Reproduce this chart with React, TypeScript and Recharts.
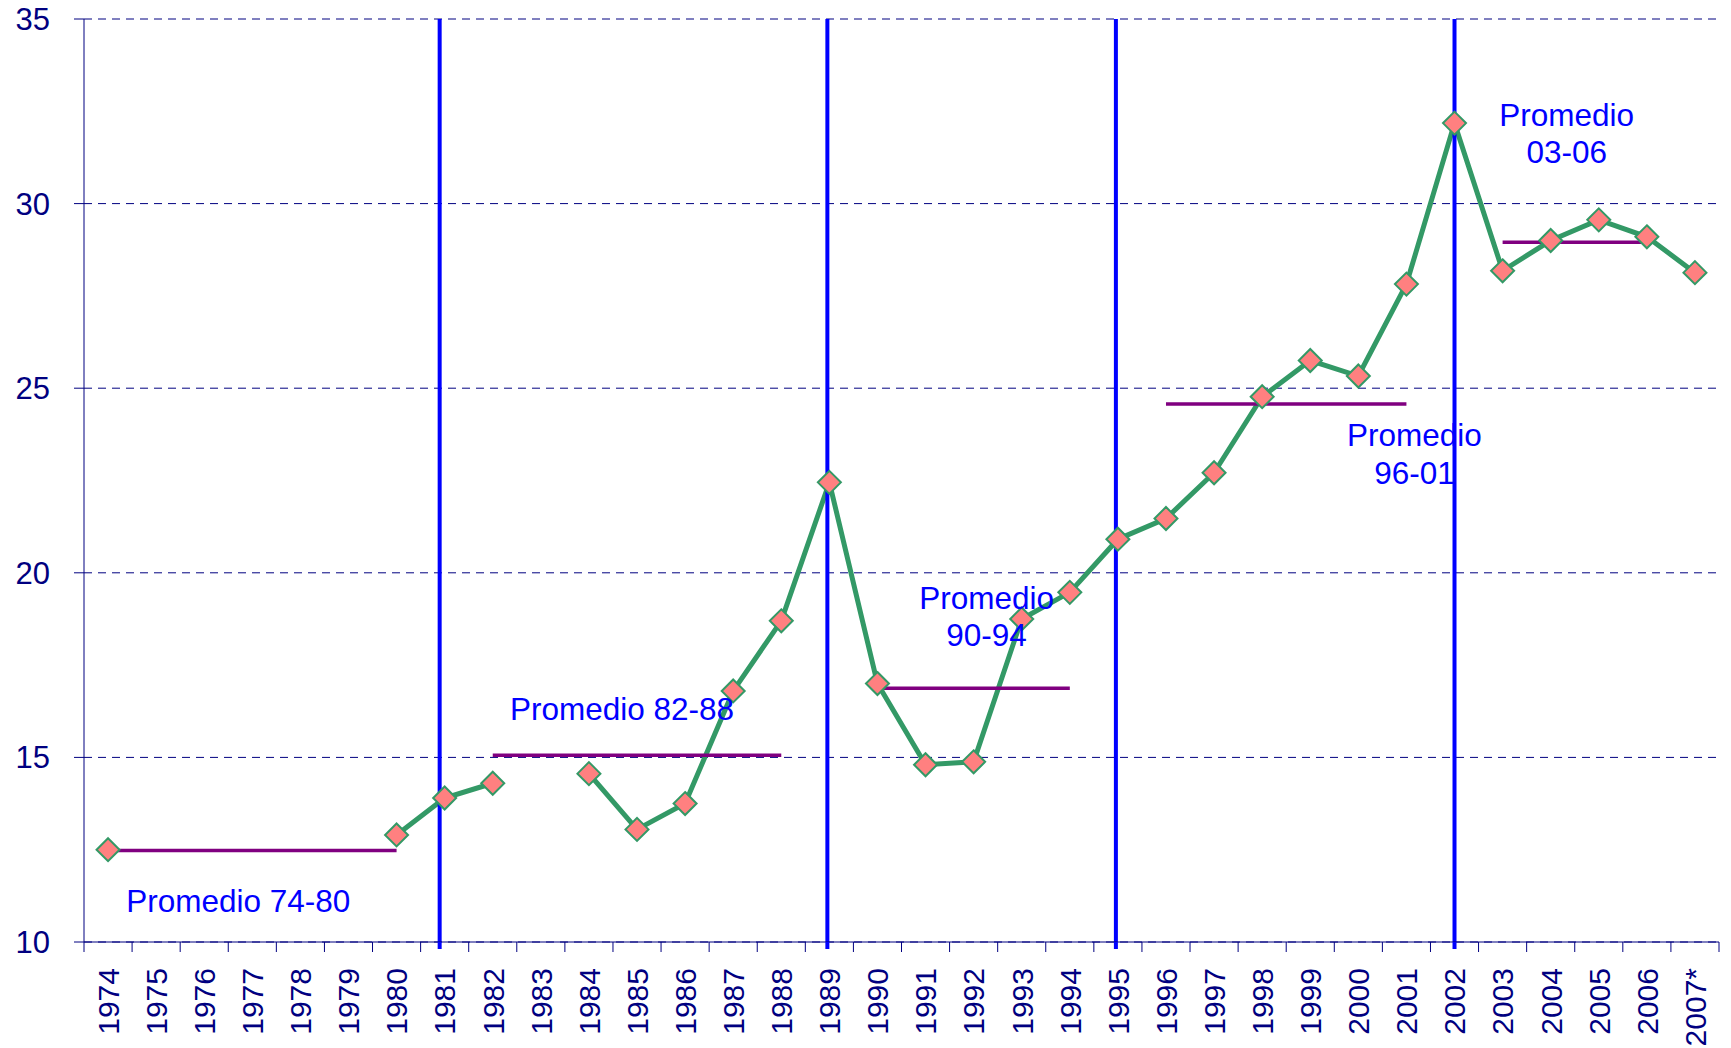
import React from 'react';
import { LineChart, Line, XAxis, YAxis, CartesianGrid, ReferenceLine, ReferenceDot } from 'recharts';

const years = ['1974', '1975', '1976', '1977', '1978', '1979', '1980', '1981', '1982', '1983', '1984', '1985', '1986', '1987', '1988', '1989', '1990', '1991', '1992', '1993', '1994', '1995', '1996', '1997', '1998', '1999', '2000', '2001', '2002', '2003', '2004', '2005', '2006', '2007*'];

const values: (number | null)[] = [12.5, null, null, null, null, null, 12.9, 13.9, 14.3, null, 14.56, 13.05, 13.75, 16.8, 18.7, 22.45, 17.0, 14.8, 14.88, 18.75, 19.47, 20.91, 21.47, 22.71, 24.77, 25.75, 25.33, 27.82, 32.18, 28.18, 29.0, 29.56, 29.1, 28.13];

const avgFrom = ['1974', '1982', '1990', '1996', '2003'];
const avgTo = ['1980', '1988', '1994', '2001', '2006'];
const avgValues = [12.48, 15.06, 16.87, 24.57, 28.95];

const eventYears = ['1981', '1989', '1995', '2002'];
const eventShift = [-5, -2, -2, 0];

const yTicks = [10, 15, 20, 25, 30, 35];

const annotations = [
  { x: '1977', y: 10.81, dx: -14, lines: ['Promedio 74-80'] },
  { x: '1985', y: 16.0, dx: -15, lines: ['Promedio 82-88'] },
  { x: '1992', y: 19.03, dx: 13, lines: ['Promedio', '90-94'] },
  { x: '2001', y: 23.43, dx: 8, lines: ['Promedio', '96-01'] },
  { x: '2004', y: 32.11, dx: 16, lines: ['Promedio', '03-06'] },
];

const data = years.map((year, i) => {
  let avg: number | null = null;
  avgFrom.forEach((f, k) => {
    const a = years.indexOf(f);
    const b = years.indexOf(avgTo[k]);
    if (i >= a && i <= b) avg = avgValues[k];
  });
  return { year, value: values[i], avg };
});

const FONT = 'Liberation Sans, Arial, Helvetica, sans-serif';
const W = 1731;
const H = 1048;
const MARGIN = { top: 19, right: 12, bottom: 0, left: 0 };
const Y_W = 84;
const X_H = 106;
const BW = (W - MARGIN.right - Y_W) / years.length;
const X_TICK = 10;
const X_MARGIN = 16;

const XTick = (props: any) => {
  const { x, y, payload } = props;
  const axisY = y - X_TICK - X_MARGIN;
  const isLast = payload.value === years[years.length - 1];
  const ei = eventYears.indexOf(payload.value);
  return (
    <g>
      <line x1={x - BW / 2} x2={x - BW / 2} y1={axisY} y2={axisY + X_TICK} stroke="#000080" strokeWidth={1} />
      {isLast && <line x1={x + BW / 2} x2={x + BW / 2} y1={axisY} y2={axisY + X_TICK} stroke="#000080" strokeWidth={1} />}
      {ei >= 0 && (
        <line x1={x + eventShift[ei]} x2={x + eventShift[ei]} y1={axisY} y2={axisY + 7} stroke="#0000FF" strokeWidth={4} />
      )}
      <text
        transform={`translate(${x},${y}) rotate(-90)`}
        textAnchor="end"
        dy="0.36em"
        fontSize={30}
        fill="#000080"
        fontFamily={FONT}
      >
        {payload.value}
      </text>
    </g>
  );
};

const Diamond = (props: any) => {
  const { cx, cy, index } = props;
  if (cx == null || cy == null || props.value == null) return <g key={`d-${index}`} />;
  const s = 11.5;
  return (
    <polygon
      key={`d-${index}`}
      points={`${cx},${cy - s} ${cx + s},${cy} ${cx},${cy + s} ${cx - s},${cy}`}
      fill="#FF8080"
      stroke="#339966"
      strokeWidth={2}
    />
  );
};

const makeLabel = (lines: string[], dx: number) => (props: any) => {
  const { cx, cy } = props;
  if (cx == null || cy == null) return <g />;
  return (
    <text x={cx + dx} y={cy} textAnchor="middle" fontSize={31.5} fill="#0000FF" fontFamily={FONT}>
      {lines.map((l, i) => (
        <tspan key={i} x={cx + dx} dy={i === 0 ? 0 : 37.8}>
          {l}
        </tspan>
      ))}
    </text>
  );
};

const makeEventShape = (shift: number) => (props: any) => {
  const { x1, x2, y1, y2 } = props;
  if (x1 == null) return <g />;
  return <line x1={x1 + shift} x2={x2 + shift} y1={y1} y2={y2} stroke="#0000FF" strokeWidth={4} />;
};

export default function App() {
  return (
    <div style={{ position: 'absolute', left: 0, top: 0, width: W, height: H, background: '#fff' }}>
      <LineChart width={W} height={H} data={data} margin={MARGIN}>
        <CartesianGrid vertical={false} stroke="#000080" strokeDasharray="8 6" strokeWidth={1} />
        <XAxis
          dataKey="year"
          type="category"
          scale="band"
          interval={0}
          height={X_H}
          tickSize={X_TICK}
          tickMargin={X_MARGIN}
          tickLine={false}
          axisLine={{ stroke: '#000080', strokeWidth: 1 }}
          tick={<XTick />}
        />
        <YAxis
          type="number"
          domain={[10, 35]}
          ticks={yTicks}
          width={Y_W}
          tickSize={10}
          tickMargin={24}
          allowDataOverflow
          axisLine={{ stroke: '#000080', strokeWidth: 1 }}
          tickLine={{ stroke: '#000080', strokeWidth: 1 }}
          tick={{ fontSize: 31, fill: '#000080', fontFamily: FONT }}
        />
        <Line
          type="linear"
          dataKey="value"
          stroke="#339966"
          strokeWidth={5}
          connectNulls={false}
          dot={<Diamond />}
          activeDot={false}
          isAnimationActive={false}
        />
        <Line
          type="linear"
          dataKey="avg"
          stroke="#800080"
          strokeWidth={3.5}
          connectNulls={false}
          dot={false}
          activeDot={false}
          isAnimationActive={false}
        />
        {eventYears.map((yr, i) => (
          <ReferenceLine key={yr} x={yr} stroke="#0000FF" strokeWidth={4} shape={makeEventShape(eventShift[i])} />
        ))}
        {annotations.map((a, i) => (
          <ReferenceDot key={i} x={a.x} y={a.y} r={1} shape={makeLabel(a.lines, a.dx)} />
        ))}
      </LineChart>
    </div>
  );
}
